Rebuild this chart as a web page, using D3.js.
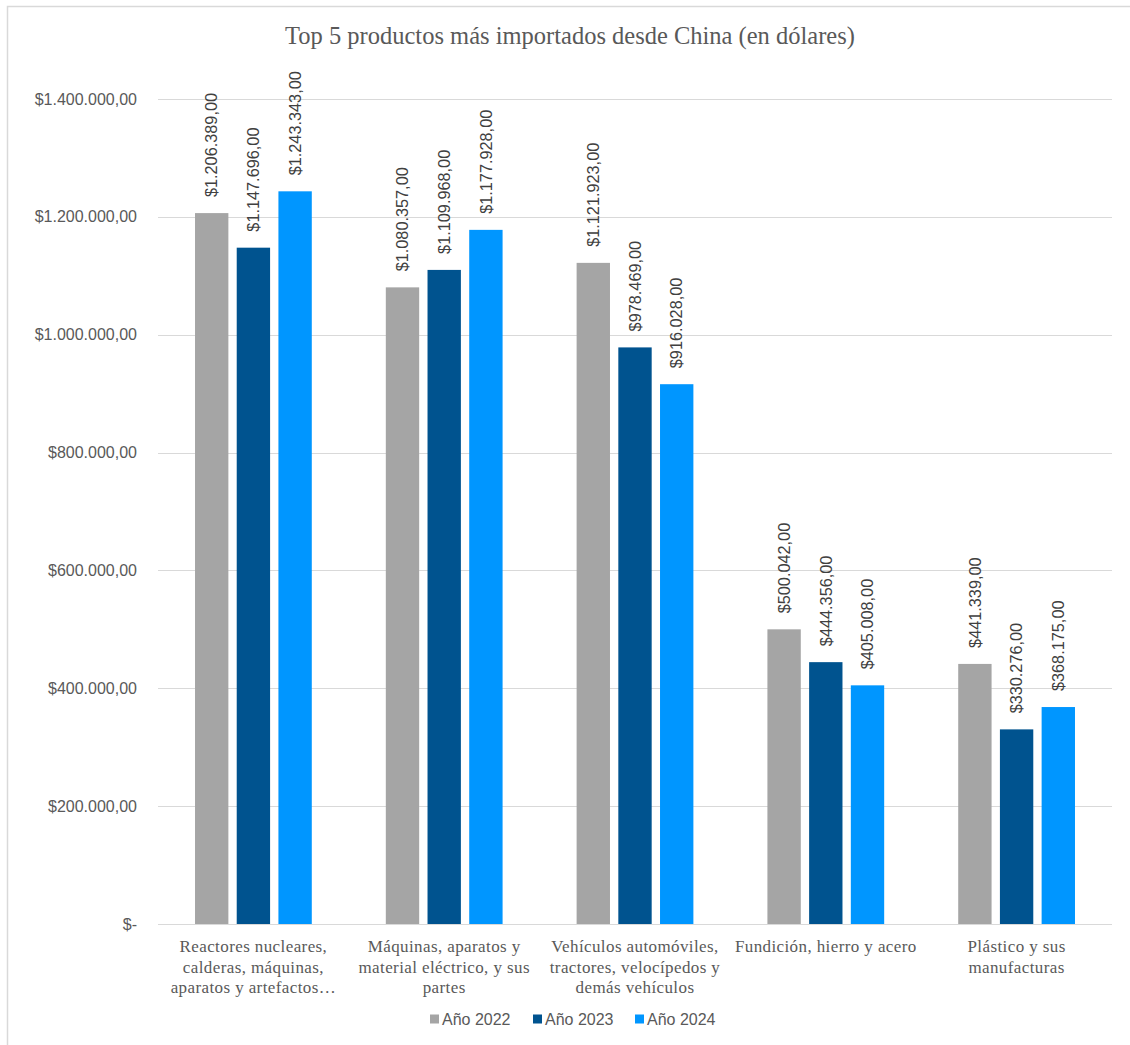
<!DOCTYPE html>
<html>
<head>
<meta charset="utf-8">
<script src="https://cdn.jsdelivr.net/npm/d3@7"></script>
<style>
  html, body { margin: 0; padding: 0; background: #fff; }
  svg { display: block; }
</style>
</head>
<body>
<svg id="chart" width="1130" height="1045"></svg>
<script>
const title = "Top 5 productos más importados desde China (en dólares)";
const categories = [
  "Reactores nucleares, calderas, máquinas, aparatos y artefactos…",
  "Máquinas, aparatos y material eléctrico, y sus partes",
  "Vehículos automóviles, tractores, velocípedos y demás vehículos",
  "Fundición, hierro y acero",
  "Plástico y sus manufacturas"
];
const categoryLines = [
  ["Reactores nucleares,", "calderas, máquinas,", "aparatos y artefactos…"],
  ["Máquinas, aparatos y", "material eléctrico, y sus", "partes"],
  ["Vehículos automóviles,", "tractores, velocípedos y", "demás vehículos"],
  ["Fundición, hierro y acero"],
  ["Plástico y sus", "manufacturas"]
];
const seriesNames = ["Año 2022", "Año 2023", "Año 2024"];
const values2022 = [1206389, 1080357, 1121923, 500042, 441339];
const values2023 = [1147696, 1109968, 978469, 444356, 330276];
const values2024 = [1243343, 1177928, 916028, 405008, 368175];
const yTicks = [0, 200000, 400000, 600000, 800000, 1000000, 1200000, 1400000];
const colors = ["#A5A5A5", "#00538F", "#0096FF"];

const seriesValues = [values2022, values2023, values2024];

const svg = d3.select("#chart");

// outer border
svg.append("rect")
  .attr("x", 7.5).attr("y", 6.5)
  .attr("width", 1140).attr("height", 1060)
  .attr("fill", "none").attr("stroke", "#D9D9D9").attr("stroke-width", 1.5);

const plot = { left: 158, right: 1112, top: 99, bottom: 924 };

const y = d3.scaleLinear().domain([0, 1400000]).range([plot.bottom, plot.top]);
const x0 = d3.scaleBand().domain(categories).range([plot.left, plot.right]).padding(0);
const bw = x0.bandwidth();
const x1 = d3.scaleBand().domain(seriesNames)
  .range([bw * 0.194, bw * 0.806]).paddingInner(0.2).paddingOuter(0);

function fmt(v) {
  const s = d3.format(",")(v).replace(/,/g, ".");
  return "$" + s + ",00";
}
function fmtTick(v) {
  if (v === 0) return "$-";
  return fmt(v);
}

// gridlines
svg.append("g").selectAll("line")
  .data(yTicks)
  .join("line")
  .attr("x1", plot.left).attr("x2", plot.right)
  .attr("y1", d => Math.round(y(d)) + 0.5).attr("y2", d => Math.round(y(d)) + 0.5)
  .attr("stroke", "#D9D9D9").attr("stroke-width", 1.2);

// y axis labels
const yAxis = d3.axisLeft(y).tickValues(yTicks).tickFormat(fmtTick).tickSize(0).tickPadding(0);
const yg = svg.append("g").attr("transform", "translate(137,0)").call(yAxis);
yg.select(".domain").remove();
yg.selectAll("text")
  .attr("font-family", "'Liberation Sans', Arial, sans-serif")
  .attr("font-size", 16)
  .attr("fill", "#595959");

// bars
const data = [];
categories.forEach((c, i) => {
  seriesNames.forEach((s, j) => {
    data.push({ cat: c, series: s, value: seriesValues[j][i], color: colors[j] });
  });
});

const barG = svg.append("g");
barG.selectAll("rect")
  .data(data)
  .join("rect")
  .attr("x", d => x0(d.cat) + x1(d.series))
  .attr("y", d => y(d.value))
  .attr("width", x1.bandwidth())
  .attr("height", d => y(0) - y(d.value))
  .attr("fill", d => d.color);

// data labels
barG.selectAll("text.lbl")
  .data(data)
  .join("text")
  .attr("class", "lbl")
  .attr("transform", d => {
    const cx = x0(d.cat) + x1(d.series) + x1.bandwidth() / 2;
    const ty = y(d.value) - 16;
    return `translate(${cx},${ty}) rotate(-90)`;
  })
  .attr("dy", "0.35em")
  .attr("text-anchor", "start")
  .attr("font-family", "'Liberation Sans', Arial, sans-serif")
  .attr("font-size", 16.3)
  .attr("fill", "#404040")
  .text(d => fmt(d.value));

// category labels
const catG = svg.append("g");
categories.forEach((c, i) => {
  const cx = x0(c) + bw / 2;
  const t = catG.append("text")
    .attr("x", cx).attr("y", 952)
    .attr("text-anchor", "middle")
    .attr("font-family", "'Liberation Serif', 'Times New Roman', serif")
    .attr("font-size", 17)
    .attr("letter-spacing", 0.4)
    .attr("fill", "#595959");
  categoryLines[i].forEach((line, k) => {
    t.append("tspan").attr("x", cx).attr("y", 952 + k * 20.5).text(line);
  });
});

// title
svg.append("text")
  .attr("x", 570).attr("y", 44)
  .attr("text-anchor", "middle")
  .attr("font-family", "'Liberation Serif', 'Times New Roman', serif")
  .attr("font-size", 24.5)
  .attr("fill", "#595959")
  .text(title);

// legend
const legendX = [430, 533, 635];
const lg = svg.append("g");
seriesNames.forEach((s, j) => {
  lg.append("rect")
    .attr("x", legendX[j]).attr("y", 1014.5)
    .attr("width", 9).attr("height", 9)
    .attr("fill", colors[j]);
  lg.append("text")
    .attr("x", legendX[j] + 12).attr("y", 1019)
    .attr("dy", "0.35em")
    .attr("font-family", "'Liberation Sans', Arial, sans-serif")
    .attr("font-size", 16)
    .attr("fill", "#595959")
    .text(s);
});
</script>
</body>
</html>
